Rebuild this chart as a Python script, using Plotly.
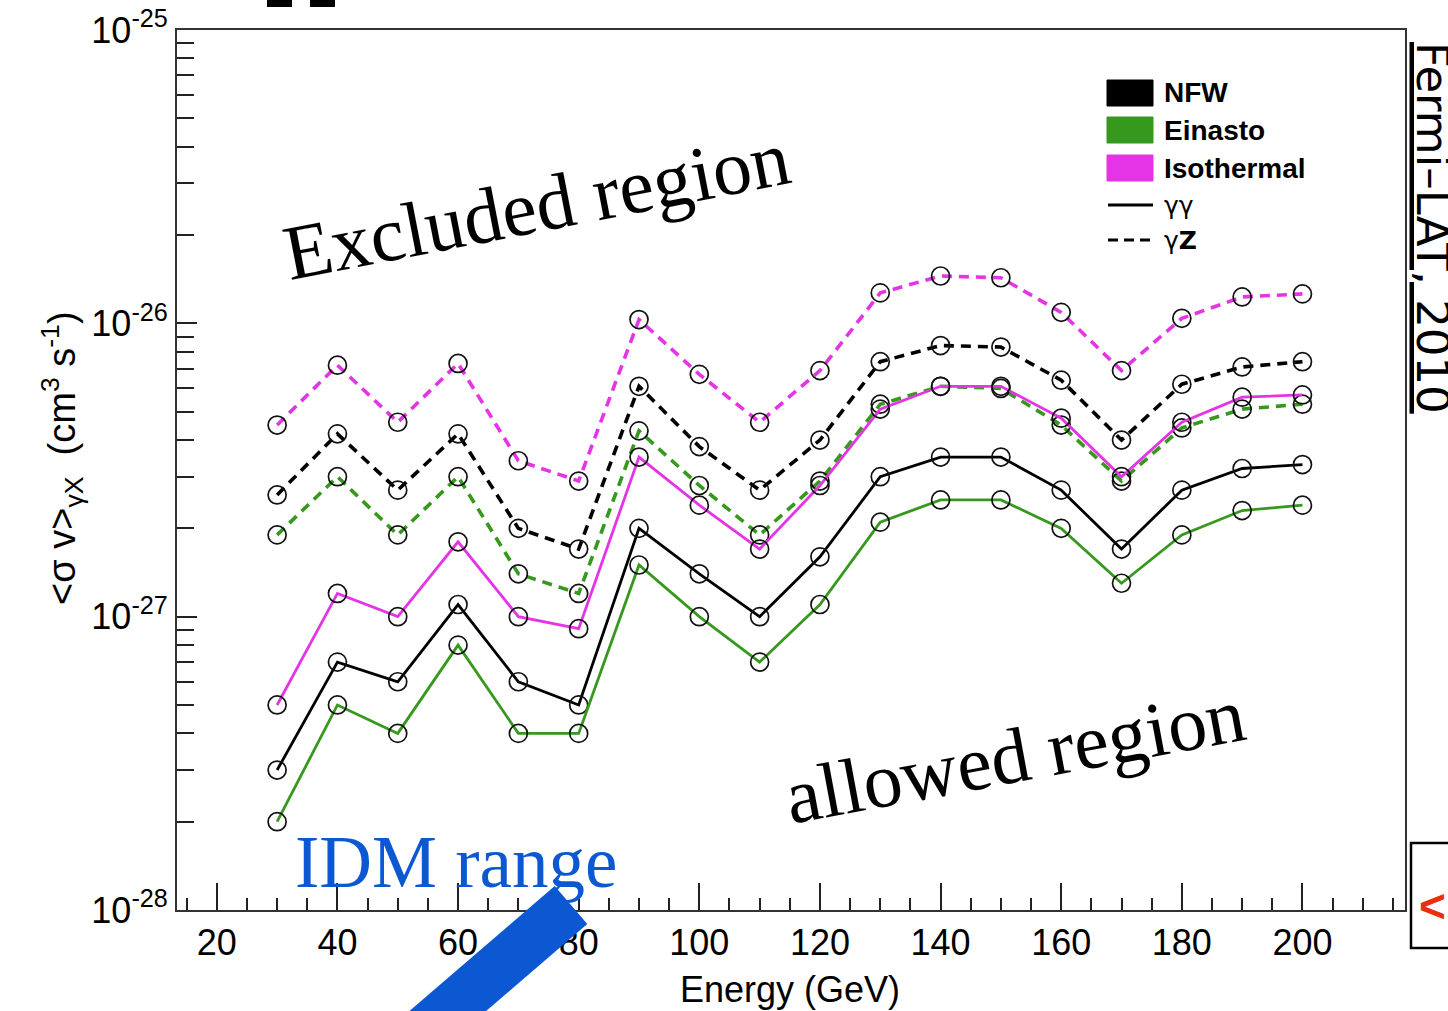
import plotly.graph_objects as go

# ---------------- data ----------------
energy = [30, 40, 50, 60, 70, 80, 90, 100, 110, 120, 130, 140, 150, 160, 170, 180, 190, 200]

nfw_gg = [3.0e-28, 7.0e-28, 6.0e-28, 1.1e-27, 6.0e-28, 5.0e-28, 2.0e-27, 1.4e-27, 1.0e-27,
          1.6e-27, 3.0e-27, 3.5e-27, 3.5e-27, 2.7e-27, 1.7e-27, 2.7e-27, 3.2e-27, 3.3e-27]
ein_gg = [2.0e-28, 5.0e-28, 4.0e-28, 8.0e-28, 4.0e-28, 4.0e-28, 1.5e-27, 1.0e-27, 7.0e-28,
          1.1e-27, 2.1e-27, 2.5e-27, 2.5e-27, 2.0e-27, 1.3e-27, 1.9e-27, 2.3e-27, 2.4e-27]
iso_gg = [5.0e-28, 1.2e-27, 1.0e-27, 1.8e-27, 1.0e-27, 9.1e-28, 3.5e-27, 2.4e-27, 1.7e-27,
          2.8e-27, 5.1e-27, 6.1e-27, 6.1e-27, 4.75e-27, 3.0e-27, 4.6e-27, 5.6e-27, 5.7e-27]
nfw_gz = [2.6e-27, 4.2e-27, 2.7e-27, 4.2e-27, 2.0e-27, 1.7e-27, 6.1e-27, 3.8e-27, 2.7e-27,
          4.0e-27, 7.4e-27, 8.4e-27, 8.3e-27, 6.4e-27, 4.0e-27, 6.2e-27, 7.1e-27, 7.4e-27]
ein_gz = [1.9e-27, 3.0e-27, 1.9e-27, 3.0e-27, 1.4e-27, 1.2e-27, 4.3e-27, 2.8e-27, 1.9e-27,
          2.9e-27, 5.3e-27, 6.1e-27, 6.0e-27, 4.5e-27, 2.9e-27, 4.4e-27, 5.1e-27, 5.3e-27]
iso_gz = [4.5e-27, 7.2e-27, 4.6e-27, 7.3e-27, 3.4e-27, 2.9e-27, 1.03e-26, 6.7e-27, 4.6e-27,
          6.9e-27, 1.27e-26, 1.45e-26, 1.43e-26, 1.09e-26, 6.9e-27, 1.04e-26, 1.23e-26, 1.26e-26]

y_decades = [-28, -27, -26, -25]
y_tick_text = ["10<sup>-28</sup>", "10<sup>-27</sup>", "10<sup>-26</sup>", "10<sup>-25</sup>"]
legend_profiles = ["NFW", "Einasto", "Isothermal"]
legend_channels = ["γγ", "γ<b>Z</b>"]

# ---------------- style ----------------
BLACK = "#000000"
GREEN = "#36981c"
MAGENTA = "#e534e5"
BLUE = "#0b58d2"
SANS = "Liberation Sans, Arial, Helvetica, sans-serif"
SERIF = "Liberation Serif, Times New Roman, serif"

W, H = 1448, 1011
L, R, T, B = 177, 43, 30, 101
PW, PH = W - L - R, H - T - B


def px(xp):
    return (xp - L) / PW


def py(yp):
    return (H - B - yp) / PH


fig = go.Figure()

series = [
    (nfw_gz, BLACK, "10px,7px", 3.6),
    (ein_gz, GREEN, "10px,7px", 3.6),
    (iso_gz, MAGENTA, "10px,7px", 3.6),
    (nfw_gg, BLACK, "solid", 2.8),
    (ein_gg, GREEN, "solid", 2.8),
    (iso_gg, MAGENTA, "solid", 2.8),
]
for vals, col, dash, lw in series:
    fig.add_trace(go.Scatter(
        x=energy, y=vals, mode="lines+markers",
        line=dict(color=col, width=lw, dash=dash),
        marker=dict(symbol="circle-open", size=18, color="#111111", line=dict(width=1.7)),
        showlegend=False, hoverinfo="skip",
    ))

minor_y = [m * 10.0 ** e for e in y_decades[:-1] for m in range(2, 10)]

fig.update_layout(
    width=W, height=H,
    margin=dict(l=L, r=R, t=T, b=B, pad=0, autoexpand=False),
    paper_bgcolor="white", plot_bgcolor="white",
    showlegend=False,
    xaxis=dict(
        range=[13.4, 217], tick0=0, dtick=20, automargin=False,
        ticks="inside", ticklen=27, tickwidth=1.6, tickcolor="#222",
        minor=dict(dtick=5, tick0=0, ticks="inside", ticklen=12, tickwidth=1.6, tickcolor="#222"),
        showline=True, linecolor="#333", linewidth=2, mirror=True,
        showgrid=False, zeroline=False,
        tickfont=dict(family=SANS, size=36, color="black"),
    ),
    yaxis=dict(
        type="log", range=[-28, -25], automargin=False,
        tickvals=[10.0 ** d for d in y_decades], ticktext=y_tick_text,
        ticks="inside", ticklen=20, tickwidth=1.6, tickcolor="#222",
        minor=dict(tickvals=minor_y, ticks="inside", ticklen=17, tickwidth=1.6, tickcolor="#222"),
        showline=True, linecolor="#333", linewidth=2, mirror=True,
        showgrid=False, zeroline=False,
        tickfont=dict(family=SANS, size=36, color="black"),
    ),
)

ann = []
shapes = []


def note(xp, yp, text, font, angle=0, xanchor="center", yanchor="middle"):
    ann.append(dict(xref="paper", yref="paper", x=px(xp), y=py(yp), showarrow=False,
                    text=text, font=font, textangle=angle,
                    xanchor=xanchor, yanchor=yanchor))


# axis titles
note(790, 990, "Energy (GeV)", dict(family=SANS, size=36, color="black"))
note(62, 458, "&lt;σ v&gt;<sub>γX</sub>  (cm<sup>3</sup> s<sup>-1</sup>)",
     dict(family=SANS, size=38, color="black"), angle=-90)

# region labels
note(536, 206, "Excluded region", dict(family=SERIF, size=78, color="black"), angle=-11)
note(1015, 755, "allowed region", dict(family=SERIF, size=78, color="black"), angle=-10.5)

# IDM range arrow + label
shapes.append(dict(type="line", xref="paper", yref="paper",
                   x0=px(571), y0=py(905), x1=px(385), y1=py(1065),
                   line=dict(color=BLUE, width=50), layer="above"))
note(456, 862, "IDM range", dict(family=SERIF, size=73, color=BLUE))

# legend (drawn by hand to match the boxed style)
leg_cols = [BLACK, GREEN, MAGENTA]
leg_rows = [93, 130, 168]
for name, col, yc in zip(legend_profiles, leg_cols, leg_rows):
    shapes.append(dict(type="rect", xref="paper", yref="paper",
                       x0=px(1107), x1=px(1153), y0=py(yc - 13), y1=py(yc + 13),
                       fillcolor=col, line=dict(color=col, width=1)))
    note(1162, yc, "<b>" + name + "</b>", dict(family=SANS, size=28, color="black"), xanchor="left")
for txt, dash, yc in zip(legend_channels, ["solid", "10px,6px"], [205, 240]):
    shapes.append(dict(type="line", xref="paper", yref="paper",
                       x0=px(1108), x1=px(1153), y0=py(yc), y1=py(yc),
                       line=dict(color="black", width=3, dash=dash)))
    note(1162, yc, txt, dict(family="DejaVu Sans, sans-serif", size=25, color="black"), xanchor="left")

# side citation (cut off at the right edge, as in the reference)
note(1432, 228, "<u>Fermi–LAT, 2010</u>",
     dict(family="DejaVu Sans, sans-serif", size=45, color="black"), angle=90)

# partial box with red arrow at lower right
shapes.append(dict(type="rect", xref="paper", yref="paper",
                   x0=px(1411), x1=px(1470), y0=py(948), y1=py(843),
                   line=dict(color="black", width=2.5), fillcolor="rgba(0,0,0,0)"))
note(1417, 906, "<b>&lt;</b>", dict(family=SANS, size=46, color="#e8300c"), xanchor="left")

# cropped glyph bottoms at the very top
for x0, x1 in [(267, 292), (310, 335)]:
    shapes.append(dict(type="rect", xref="paper", yref="paper",
                       x0=px(x0), x1=px(x1), y0=py(7), y1=py(-10),
                       fillcolor="black", line=dict(color="black", width=0)))

fig.update_layout(annotations=ann, shapes=shapes)
fig.write_html("out.html")
